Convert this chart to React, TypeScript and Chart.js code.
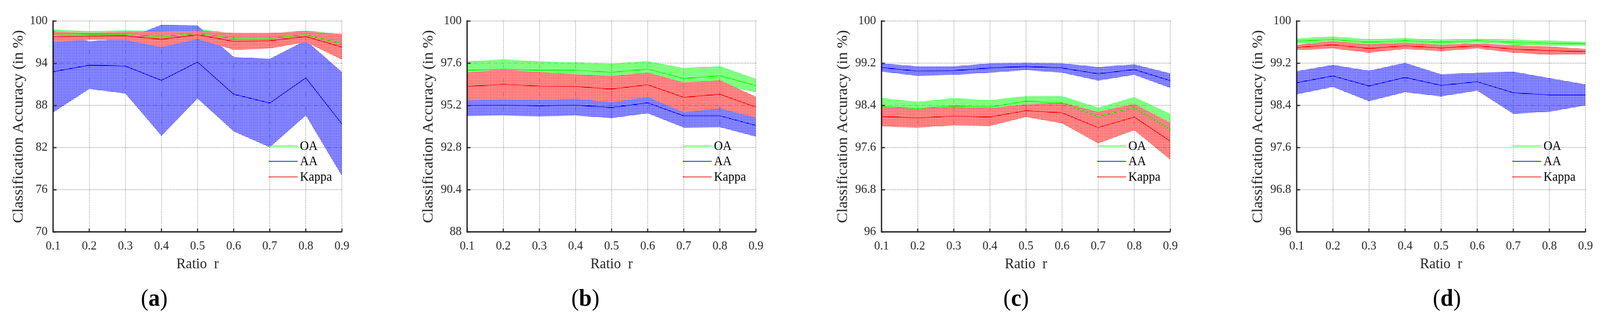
import { useEffect, useRef } from "react";
import { Chart, registerables } from "chart.js";

Chart.register(...registerables);

// x axis: training ratio r
const ratioLabels = ["0.1", "0.2", "0.3", "0.4", "0.5", "0.6", "0.7", "0.8", "0.9"];

// y tick labels per panel
const yTicksA = [70, 76, 82, 88, 94, 100];
const yTicksB = [88, 90.4, 92.8, 95.2, 97.6, 100];
const yTicksC = [96, 96.8, 97.6, 98.4, 99.2, 100];
const yTicksD = [96, 96.8, 97.6, 98.4, 99.2, 100];

// (a)
const oaA = [97.99, 98.1, 98.1, 97.75, 98.25, 97.55, 97.55, 98.05, 96.8];
const oaStdA = [0.8, 0.5, 0.6, 0.85, 0.65, 0.7, 0.7, 0.6, 1.4];
const aaA = [92.8, 93.73, 93.6, 91.57, 94.17, 89.6, 88.34, 91.92, 85.36];
const aaStdA = [5.8, 3.4, 3.9, 7.9, 5.2, 5.3, 6.3, 5.35, 7.4];
const kappaA = [97.75, 97.85, 97.9, 97.4, 98.05, 97.1, 97.2, 97.8, 96.3];
const kappaStdA = [0.75, 0.5, 0.6, 1.1, 0.6, 1.2, 1.1, 0.8, 1.8];

// (b)
const oaB = [97.21, 97.27, 97.21, 97.2, 97.08, 97.27, 96.73, 96.89, 96.33];
const oaStdB = [0.5, 0.55, 0.5, 0.45, 0.5, 0.45, 0.6, 0.55, 0.38];
const aaB = [95.2, 95.22, 95.18, 95.22, 95.08, 95.35, 94.61, 94.61, 94.06];
const aaStdB = [0.6, 0.6, 0.6, 0.6, 0.6, 0.6, 0.67, 0.65, 0.64];
const kappaB = [96.28, 96.4, 96.3, 96.28, 96.13, 96.38, 95.66, 95.84, 95.1];
const kappaStdB = [0.8, 0.85, 0.8, 0.7, 0.75, 0.7, 0.85, 0.8, 0.6];

// (c)
const oaC = [98.38, 98.34, 98.39, 98.37, 98.48, 98.45, 98.19, 98.36, 97.94];
const oaStdC = [0.16, 0.13, 0.15, 0.13, 0.1, 0.13, 0.17, 0.2, 0.3];
const aaC = [99.12, 99.05, 99.06, 99.11, 99.14, 99.11, 99.0, 99.08, 98.87];
const aaStdC = [0.08, 0.09, 0.08, 0.09, 0.07, 0.09, 0.13, 0.1, 0.14];
const kappaC = [98.19, 98.16, 98.2, 98.18, 98.3, 98.26, 97.98, 98.18, 97.72];
const kappaStdC = [0.19, 0.18, 0.18, 0.17, 0.12, 0.2, 0.3, 0.25, 0.35];

// (d)
const oaD = [99.62, 99.65, 99.6, 99.63, 99.6, 99.63, 99.6, 99.58, 99.57];
const oaStdD = [0.05, 0.06, 0.06, 0.05, 0.05, 0.04, 0.05, 0.05, 0.04];
const aaD = [98.83, 98.96, 98.77, 98.93, 98.78, 98.85, 98.64, 98.6, 98.6];
const aaStdD = [0.22, 0.21, 0.29, 0.28, 0.21, 0.17, 0.4, 0.32, 0.2];
const kappaD = [99.5, 99.55, 99.48, 99.53, 99.49, 99.53, 99.47, 99.44, 99.42];
const kappaStdD = [0.05, 0.07, 0.08, 0.06, 0.06, 0.05, 0.07, 0.08, 0.05];

const seriesNames = ["OA", "AA", "Kappa"];

const SERIF = "'Liberation Serif', 'Times New Roman', serif";
const AXIS = "#262626";
const GRID = "#1a1a1a";
const GREEN = "#00ff00";
const BLUE = "#0000ff";
const RED = "#ff0000";

// layout, in figure pixels (4305 x 822)
const FIG_W = 4305;
const FIG_H = 822;
const PLOT_TOP = 54;
const PLOT_H = 540;
const PLOT_W = 777;
const Y_BOX = 143;
const CANVAS_W = 960;
const CANVAS_H = 822;

interface PanelProps {
  axisLeft: number;
  yTitleOffset: number;
  yTicks: number[];
  oa: number[];
  oaStd: number[];
  aa: number[];
  aaStd: number[];
  kappa: number[];
  kappaStd: number[];
}

// MATLAB-like hatched fill for the std bands
function makePattern(color: string): CanvasPattern | string {
  const c = document.createElement("canvas");
  c.width = 4;
  c.height = 4;
  const g = c.getContext("2d");
  if (!g) return color;
  g.fillStyle = color;
  g.fillRect(0, 0, 3, 1);
  g.fillRect(0, 1, 1, 1);
  g.fillRect(2, 1, 1, 1);
  g.fillRect(0, 2, 3, 1);
  return g.createPattern(c, "repeat") || color;
}

const Panel = ({ axisLeft, yTitleOffset, yTicks, oa, oaStd, aa, aaStd, kappa, kappaStd }: PanelProps) => {
  const canvasRef = useRef<HTMLCanvasElement | null>(null);

  useEffect(() => {
    if (!canvasRef.current) return;

    const colors = [GREEN, BLUE, RED];
    const means = [oa, aa, kappa];
    const stds = [oaStd, aaStd, kappaStd];
    const bandOrder = [3, 2, 1];

    const datasets: any[] = [];
    means.forEach((m, k) => {
      datasets.push({
        label: seriesNames[k] + " upper",
        data: m.map((v, i) => v + stds[k][i]),
        borderWidth: 0,
        borderColor: "transparent",
        backgroundColor: makePattern(colors[k]),
        fill: "+1",
        pointRadius: 0,
        order: bandOrder[k],
      });
      datasets.push({
        label: seriesNames[k] + " lower",
        data: m.map((v, i) => v - stds[k][i]),
        borderWidth: 0,
        borderColor: "transparent",
        fill: false,
        pointRadius: 0,
        order: bandOrder[k],
      });
    });
    means.forEach((m, k) => {
      datasets.push({
        label: seriesNames[k],
        data: m,
        borderColor: colors[k],
        borderWidth: 1.7,
        fill: false,
        pointRadius: 0,
        order: 0,
      });
    });

    // inward tick marks + in-plot legend
    const decorations = {
      id: "matlabDecor",
      afterDraw(chart: any) {
        const { ctx, chartArea, scales } = chart;
        const { left, top, bottom, right } = chartArea;
        const w = right - left;
        const h = bottom - top;
        ctx.save();
        ctx.strokeStyle = AXIS;
        ctx.lineWidth = 3;
        yTicks.forEach((v) => {
          const y = scales.y.getPixelForValue(v);
          ctx.beginPath();
          ctx.moveTo(left, y);
          ctx.lineTo(left + 9, y);
          ctx.stroke();
        });
        ratioLabels.forEach((_, i) => {
          const x = scales.x.getPixelForValue(i);
          ctx.beginPath();
          ctx.moveTo(x, bottom);
          ctx.lineTo(x, bottom - 9);
          ctx.stroke();
        });
        const rows = [0.5926, 0.665, 0.739];
        const x0 = left + 0.7465 * w;
        const x1 = left + 0.8468 * w;
        ctx.font = `33px ${SERIF}`;
        ctx.textBaseline = "middle";
        ctx.textAlign = "left";
        seriesNames.forEach((name, k) => {
          const y = top + rows[k] * h;
          ctx.strokeStyle = colors[k];
          ctx.lineWidth = 1.7;
          ctx.beginPath();
          ctx.moveTo(x0, y);
          ctx.lineTo(x1, y);
          ctx.stroke();
          ctx.fillStyle = "#000";
          ctx.fillText(name, x1 + 6, y + 1);
        });
        ctx.restore();
      },
    };

    const chart = new Chart(canvasRef.current, {
      type: "line",
      data: { labels: ratioLabels, datasets },
      plugins: [decorations],
      options: {
        animation: false,
        responsive: false,
        events: [],
        layout: {
          padding: { top: PLOT_TOP, right: CANVAS_W - Y_BOX - PLOT_W, bottom: 122, left: 0 },
        },
        elements: { line: { tension: 0 }, point: { radius: 0 } },
        plugins: {
          legend: { display: false },
          tooltip: { enabled: false },
          filler: { drawTime: "beforeDatasetsDraw" },
        } as any,
        scales: {
          x: {
            type: "category",
            offset: false,
            grid: { color: GRID, lineWidth: 1.2, drawTicks: false },
            border: { display: true, color: AXIS, width: 3.5, dash: [1.5, 3], z: 1 },
            ticks: {
              font: { family: SERIF, size: 32 },
              color: AXIS,
              padding: 17,
              maxRotation: 0,
              autoSkip: false,
            },
            title: {
              display: true,
              text: "Ratio  r",
              font: { family: SERIF, size: 38 },
              color: AXIS,
              padding: 0,
            },
            afterFit: (s: any) => {
              s.height = CANVAS_H - 122 - PLOT_TOP - PLOT_H;
              s.paddingLeft = 0;
              s.paddingRight = 0;
            },
          },
          y: {
            type: "linear",
            min: yTicks[0],
            max: yTicks[yTicks.length - 1],
            grid: { color: GRID, lineWidth: 1.2, drawTicks: false },
            border: { display: true, color: AXIS, width: 3.5, dash: [1.5, 3], z: 1 },
            afterBuildTicks: (s: any) => {
              s.ticks = yTicks.map((v) => ({ value: v }));
            },
            ticks: {
              font: { family: SERIF, size: 32 },
              color: AXIS,
              padding: 15,
              callback: (v: any) => String(Number(v)),
            },
            title: {
              display: true,
              text: "Classification Accuracy (in %)",
              font: { family: SERIF, size: 40 },
              color: AXIS,
              padding: { top: Y_BOX - yTitleOffset - 24, bottom: 0 },
            },
            afterFit: (s: any) => {
              s.width = Y_BOX;
              s.paddingTop = 0;
              s.paddingBottom = 0;
            },
          },
        },
      } as any,
    });

    return () => {
      chart.destroy();
    };
  }, [axisLeft, yTitleOffset, yTicks, oa, oaStd, aa, aaStd, kappa, kappaStd]);

  return (
    <canvas
      ref={canvasRef}
      width={CANVAS_W}
      height={CANVAS_H}
      style={{
        position: "absolute",
        left: axisLeft - Y_BOX,
        top: 0,
        width: CANVAS_W,
        height: CANVAS_H,
      }}
    />
  );
};

const panels = [
  { key: "a", axisLeft: 143, yTitleOffset: 93, captionX: 415, yTicks: yTicksA, oa: oaA, oaStd: oaStdA, aa: aaA, aaStd: aaStdA, kappa: kappaA, kappaStd: kappaStdA },
  { key: "b", axisLeft: 1257, yTitleOffset: 104, captionX: 1575, yTicks: yTicksB, oa: oaB, oaStd: oaStdB, aa: aaB, aaStd: aaStdB, kappa: kappaB, kappaStd: kappaStdB },
  { key: "c", axisLeft: 2372, yTitleOffset: 104, captionX: 2734, yTicks: yTicksC, oa: oaC, oaStd: oaStdC, aa: aaC, aaStd: aaStdC, kappa: kappaC, kappaStd: kappaStdC },
  { key: "d", axisLeft: 3489, yTitleOffset: 104, captionX: 3893, yTicks: yTicksD, oa: oaD, oaStd: oaStdD, aa: aaD, aaStd: aaStdD, kappa: kappaD, kappaStd: kappaStdD },
];

export default function App() {
  // the browser may be narrower than the figure: squeeze the whole figure to fit
  const sx = Math.min(1, window.innerWidth / FIG_W);
  const sy = Math.min(1, window.innerHeight / FIG_H);

  return (
    <div
      style={{
        position: "absolute",
        left: 0,
        top: 0,
        width: FIG_W,
        height: FIG_H,
        background: "#fff",
        overflow: "hidden",
        transform: `scale(${sx}, ${sy})`,
        transformOrigin: "0 0",
      }}
    >
      {panels.map((p) => (
        <Panel
          key={p.key}
          axisLeft={p.axisLeft}
          yTitleOffset={p.yTitleOffset}
          yTicks={p.yTicks}
          oa={p.oa}
          oaStd={p.oaStd}
          aa={p.aa}
          aaStd={p.aaStd}
          kappa={p.kappa}
          kappaStd={p.kappaStd}
        />
      ))}
      {panels.map((p) => (
        <div
          key={"cap-" + p.key}
          style={{
            position: "absolute",
            left: p.captionX - 100,
            top: 731,
            width: 200,
            textAlign: "center",
            fontFamily: SERIF,
            fontSize: 62,
            lineHeight: "62px",
            color: "#000",
          }}
        >
          (<b>{p.key}</b>)
        </div>
      ))}
    </div>
  );
}
